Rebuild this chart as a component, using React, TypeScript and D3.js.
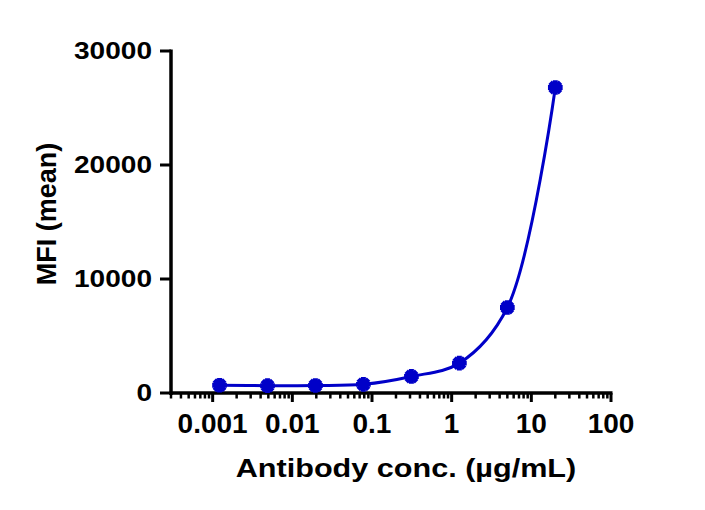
import React from "react";
import * as d3 from "d3";

const concentrations = [0.00122, 0.00488, 0.0195, 0.078, 0.3125, 1.25, 5, 20];
const mfiValues = [680, 640, 660, 760, 1450, 2620, 7500, 26800];
const xTickValues = [0.001, 0.01, 0.1, 1, 10, 100];
const xTickLabels = ["0.001", "0.01", "0.1", "1", "10", "100"];
const yTickValues = [0, 10000, 20000, 30000];
const yTickLabels = ["0", "10000", "20000", "30000"];
const xTitle = "Antibody conc. (µg/mL)";
const yTitle = "MFI (mean)";

const W = 705;
const H = 510;
const FONT = "'Liberation Sans', Arial, sans-serif";
const BLUE = "#0000C8";

export default function App() {
  const x = d3.scaleLog().domain([0.0003, 100]).range([171, 611]);
  const y = d3.scaleLinear().domain([0, 30000]).range([393, 51]);

  const minorTicks: number[] = [];
  for (let e = -4; e <= 1; e++) {
    for (let m = 2; m <= 9; m++) {
      const v = m * Math.pow(10, e);
      if (v >= 0.0003 && v <= 100) minorTicks.push(v);
    }
  }

  const pts = concentrations.map((c, i) => [x(c), y(mfiValues[i])] as [number, number]);
  const line = d3.line().curve(d3.curveCatmullRom.alpha(0.5))(pts) || "";

  const circle = d3.symbol().type(d3.symbolCircle).size(Math.PI * 4 * 4)() || "";
  const cross = d3.symbol().type(d3.symbolCross).size(120)() || "";

  return (
    <div style={{ margin: -8 }}>
      <svg width={W} height={H} style={{ display: "block", background: "#fff" }}>
        {/* axes */}
        <line x1={171} x2={171} y1={49.5} y2={395} stroke="#000" strokeWidth={3.5} />
        <line x1={169.5} x2={612.5} y1={393} y2={393} stroke="#000" strokeWidth={3.5} />
        {yTickValues.map((v, i) => (
          <g key={"y" + i}>
            <line x1={160} x2={171} y1={y(v)} y2={y(v)} stroke="#000" strokeWidth={3} />
            <text
              transform={`translate(152,${y(v) + 8}) scale(1.22,1)`}
              textAnchor="end"
              fontFamily={FONT}
              fontWeight="bold"
              fontSize={23}
              fill="#000"
            >
              {yTickLabels[i]}
            </text>
          </g>
        ))}
        {minorTicks.map((v, i) => (
          <line key={"m" + i} x1={x(v)} x2={x(v)} y1={393} y2={398.5} stroke="#000" strokeWidth={2.5} />
        ))}
        {xTickValues.map((v, i) => (
          <g key={"x" + i}>
            <line x1={x(v)} x2={x(v)} y1={393} y2={402} stroke="#000" strokeWidth={3} />
            <text
              x={x(v)}
              y={433}
              textAnchor="middle"
              fontFamily={FONT}
              fontWeight="bold"
              fontSize={28}
              fill="#000"
            >
              {xTickLabels[i]}
            </text>
          </g>
        ))}
        <text
          transform={`translate(406,477) scale(1.2,1)`}
          textAnchor="middle"
          fontFamily={FONT}
          fontWeight="bold"
          fontSize={25.5}
          fill="#000"
        >
          {xTitle}
        </text>
        <text
          transform={`translate(56,214) rotate(-90)`}
          textAnchor="middle"
          fontFamily={FONT}
          fontWeight="bold"
          fontSize={27}
          fill="#000"
        >
          {yTitle}
        </text>
        {/* curve */}
        <path d={line} fill="none" stroke={BLUE} strokeWidth={3} />
        {/* markers */}
        {pts.map(([px, py], i) => (
          <g key={"p" + i} transform={`translate(${px},${py})`} fill={BLUE}>
            <path d={circle} />
            <path d={cross} />
            <path d={cross} transform="rotate(45)" />
          </g>
        ))}
      </svg>
    </div>
  );
}
